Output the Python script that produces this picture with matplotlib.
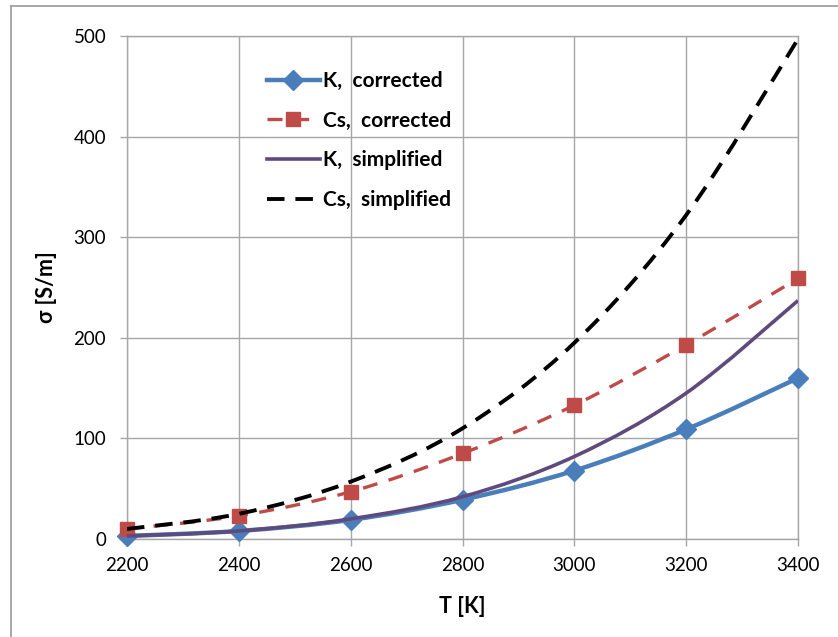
import numpy as np
import matplotlib
matplotlib.use("Agg")
import matplotlib.pyplot as plt
from matplotlib.path import Path
from matplotlib.patches import PathPatch
from matplotlib.lines import Line2D

plt.rcParams['font.family'] = ['Lato', 'DejaVu Sans']

T = [2200, 2400, 2600, 2800, 3000, 3200, 3400]
K_corrected = [3, 8, 19, 39, 68, 109, 160]
Cs_corrected = [10, 23, 47, 85, 133, 193, 259]
K_simplified = [3, 8, 20, 42, 82, 145, 237]
Cs_simplified = [10, 25, 57, 110, 195, 322, 497]

labels = ['K,  corrected', 'Cs,  corrected', 'K,  simplified', 'Cs,  simplified']

W, H = 838, 637
fig = plt.figure(figsize=(W / 100, H / 100), dpi=100)
ax = fig.add_axes([127 / W, 1 - 539 / H, (798 - 127) / W, (539 - 36) / H])


def smooth_path(x, y):
    # Excel-style smoothed line: cubic Bezier segments (Catmull-Rom tangents)
    p = np.column_stack([x, y]).astype(float)
    n = len(p)
    verts = [p[0]]
    codes = [Path.MOVETO]
    for i in range(n - 1):
        p0 = p[i - 1] if i > 0 else p[i]
        p1 = p[i]
        p2 = p[i + 1]
        p3 = p[i + 2] if i + 2 < n else p[i + 1]
        c1 = p1 + (p2 - p0) / 6.0
        c2 = p2 - (p3 - p1) / 6.0
        verts += [c1, c2, p2]
        codes += [Path.CURVE4] * 3
    return Path(verts, codes)


blue = '#4A7EBB'
red = '#BE4B48'
purple = '#5F4A7E'
black = '#000000'

styles = [
    dict(color=blue, lw=3.2, ls='-', marker='D', ms=10),
    dict(color=red, lw=2.4, ls=(0, (4.5, 3.5)), marker='s', ms=10),
    dict(color=purple, lw=2.6, ls='-', marker=None, ms=0),
    dict(color=black, lw=2.8, ls=(0, (4.5, 2.8)), marker=None, ms=0),
]
series = [K_corrected, Cs_corrected, K_simplified, Cs_simplified]

handles = []
for z, (vals, st, lab) in enumerate(zip(series, styles, labels)):
    patch = PathPatch(smooth_path(T, vals), fill=False, edgecolor=st['color'],
                      lw=st['lw'], linestyle=st['ls'], zorder=3 + 2 * z,
                      capstyle='butt', joinstyle='round')
    ax.add_patch(patch)
    if st['marker']:
        ax.plot(T, vals, linestyle='none', marker=st['marker'], ms=st['ms'],
                color=st['color'], mec=st['color'], zorder=4 + 2 * z, clip_on=False)
    handles.append(Line2D([], [], color=st['color'], lw=st['lw'], linestyle=st['ls'],
                          marker=st['marker'] if st['marker'] else None,
                          ms=st['ms'], mec=st['color']))

ax.set_xlim(2200, 3400)
ax.set_ylim(0, 500)
ax.set_xticks(T)
ax.set_yticks([0, 100, 200, 300, 400, 500])
ax.grid(True, color='#A6A6A6', lw=1.0)
ax.set_axisbelow(True)
for s in ax.spines.values():
    s.set_color('#A6A6A6')
    s.set_linewidth(1.0)
ax.tick_params(axis='both', direction='out', length=5, width=1.0, color='#A6A6A6',
               labelsize=13.5, labelcolor='#000000')
ax.tick_params(axis='y', pad=10)
ax.tick_params(axis='x', pad=8)
ax.set_xlabel('T [K]', fontsize=15.5, fontweight='bold', labelpad=16)
ax.set_ylabel('σ [S/m]', fontsize=15.5, fontweight='bold', labelpad=12)

leg = ax.legend(handles, labels, loc='upper left', bbox_to_anchor=(0.18, 0.968),
                frameon=False, handlelength=2.55, labelspacing=0.95, handletextpad=0.15,
                prop={'size': 15, 'weight': 'bold'})

# chart area border
bx = 11 / W
by = 1 - 6 / H
fig.add_artist(Line2D([bx, bx], [0, by], transform=fig.transFigure, color='#A0A0A0', lw=1.3))
fig.add_artist(Line2D([bx, 1], [by, by], transform=fig.transFigure, color='#A0A0A0', lw=1.3))

fig.savefig('out.png', dpi=100)
